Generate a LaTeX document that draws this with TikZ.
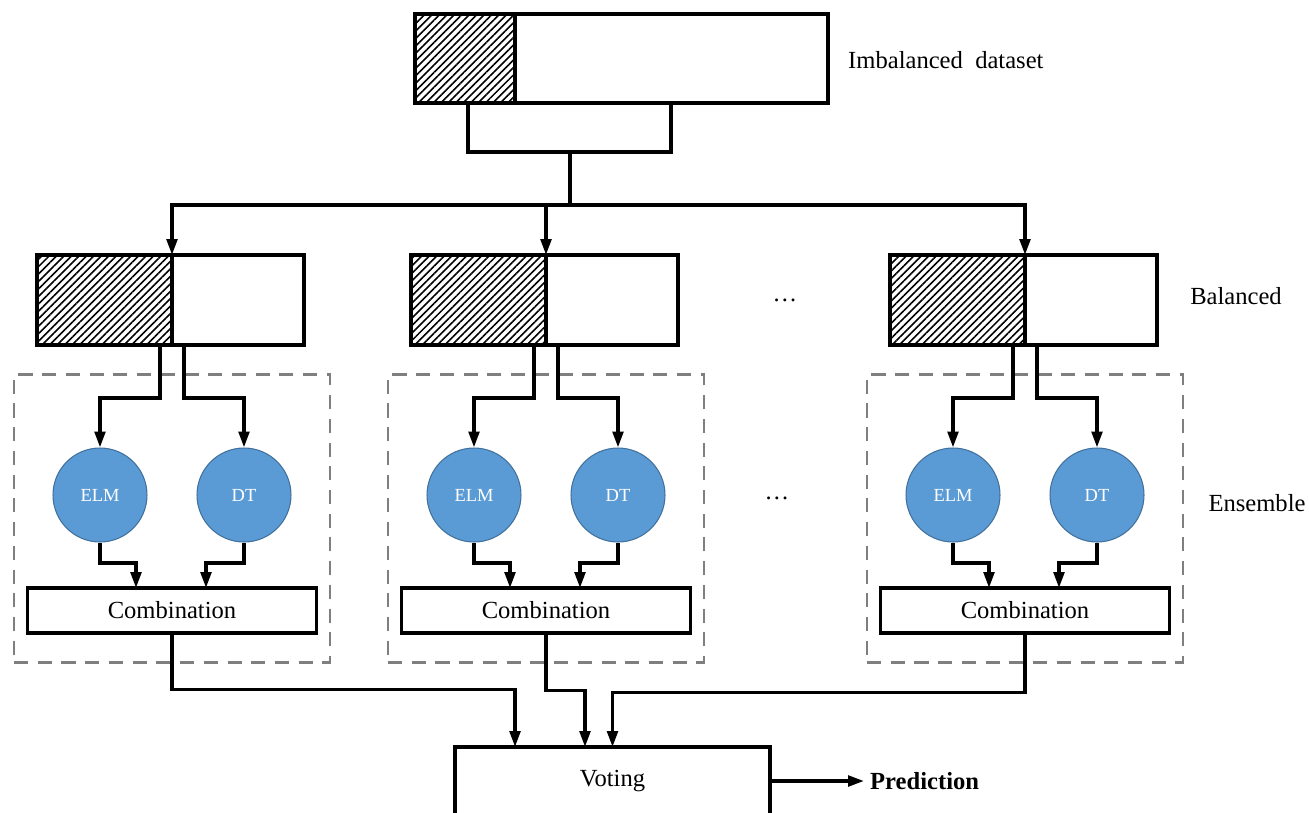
\documentclass[tikz,border=0pt]{standalone}
\usepackage{fontspec}
\setmainfont{Liberation Serif}
\usetikzlibrary{arrows.meta, patterns.meta, positioning}
\definecolor{elmblue}{HTML}{5B9BD5}
\definecolor{elmedge}{HTML}{41719C}
\definecolor{dashgray}{HTML}{7F7F7F}
\tikzset{
	minority/.style={
		rectangle,
		draw=black,
		line width=1.9pt,
		pattern={Lines[angle=45, distance=3pt, line width=0.9pt]},
		minimum height=1.8cm,
		inner sep=0pt,
		outer sep=0pt
	},
	majority/.style={
		rectangle,
		draw=black,
		line width=1.9pt,
		fill=white,
		minimum height=1.8cm,
		inner sep=0pt,
		outer sep=0pt
	},
	learner/.style={
		circle,
		draw=elmedge,
		line width=0.6pt,
		fill=elmblue,
		minimum size=1.88cm,
		text=white,
		font=\fontsize{10.5}{12}\selectfont
	},
	combine/.style={
		rectangle,
		draw=black,
		line width=1.9pt,
		fill=white,
		minimum width=5.78cm,
		minimum height=0.9cm,
		outer sep=0pt,
		font=\fontsize{14}{16}\selectfont
	},
	group/.style={
		rectangle,
		draw=dashgray,
		line width=1.5pt,
		dash pattern=on 8pt off 5.5pt,
		minimum width=6.32cm,
		minimum height=5.76cm
	},
	sidetext/.style={font=\fontsize{14}{16}\selectfont},
	link/.style={line width=1.9pt},
	arrow/.style={line width=1.9pt,->,>={Triangle[length=9pt,width=6pt]}}
}

\begin{document}
\begin{tikzpicture}[x=0.02cm, y=-0.02cm]
\useasboundingbox (0,0) rectangle (1309,812);
\fill[white] (0,0) rectangle (1309,812);

% imbalanced input
\draw [link] (468,103) -- (468,152) -- (671,152) -- (671,103);
\node (minor) [minority, minimum width=2cm, minimum height=1.78cm, anchor=east] at (515,58.5) {};
\node (major) [majority, minimum width=6.26cm, minimum height=1.78cm, anchor=west] at (515,58.5) {};
\node (imb) [sidetext, anchor=west] at (842,60) {Imbalanced\ \ dataset};
\coordinate (sample) at (570,152);
\coordinate (fork) at (570,205);
\draw [link] (sample) -- (fork);

% one column per balanced subset
\foreach \c/\x in {1/172, 2/546, 3/1025}{
	\node (ens\c) [group] at (\x,518.5) {};
	\node (min\c) [minority, minimum width=2.7cm, anchor=east] at (\x,300) {};
	\node (maj\c) [majority, minimum width=2.64cm, anchor=west] at (\x,300) {};
	\node (elm\c) [learner] at (\x-72,495) {ELM};
	\node (dt\c) [learner] at (\x+72,495) {DT};
	\node (comb\c) [combine] at (\x,610.5) {Combination};
	\draw [arrow] (fork) -| (min\c.north east);
	\draw [arrow] ([xshift=-0.24cm]min\c.south east) -- ++(0,53) -| (elm\c);
	\draw [arrow] ([xshift=0.24cm]maj\c.south west) -- ++(0,53) -| (dt\c);
	\draw [arrow] (elm\c) -- ++(0,68) -| ([xshift=-0.72cm]comb\c.north);
	\draw [arrow] (dt\c) -- ++(0,68) -| ([xshift=0.68cm]comb\c.north);
}

\node (dots1) [sidetext] at (785,300) {\dots};
\node (dots2) [sidetext] at (777,498) {\dots};
\node (bal) [sidetext] at (1236,296) {Balanced};
\node (ens) [sidetext] at (1257,503) {Ensemble};

% voting
\node (vote) [combine, minimum width=6.3cm, minimum height=1.36cm] at (612.5,781) {Voting};
\node (pred) [sidetext, anchor=west, font=\fontsize{14}{16}\selectfont\bfseries] at (864,781) {Prediction};
\draw [arrow] (comb1) -- ++(0,79) -| ([xshift=-1.95cm]vote.north);
\draw [arrow] (comb2) -- ++(0,80) -| ([xshift=-0.55cm]vote.north);
\draw [arrow] (comb3) -- ++(0,82) -| (vote.north);
\draw [arrow] (vote) -- (pred);
\end{tikzpicture}
\end{document}
